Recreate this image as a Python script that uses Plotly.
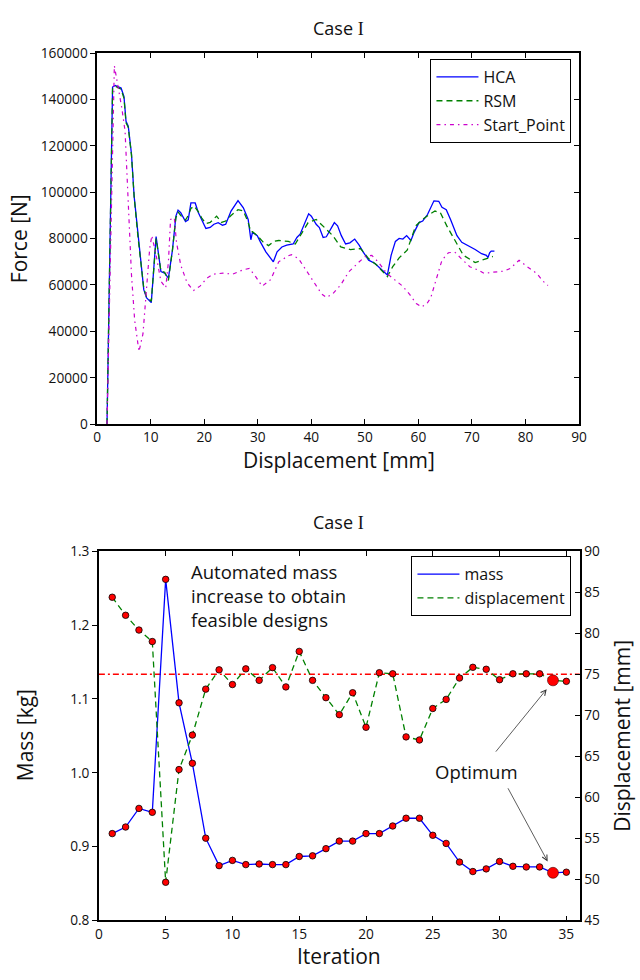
import plotly.graph_objects as go

# ---------------- Data: top chart (Force vs Displacement) ----------------
HCA_X = [1.83, 2.87, 3.36, 4.46, 5.0, 5.38, 5.8, 6.4, 6.9, 7.6, 8.7, 9.2, 10.1, 11.0, 11.9, 12.6, 13.3,
         14.05, 14.7, 15.1, 15.6, 16.5, 17.0, 17.5, 18.3, 18.9, 19.5, 20.3, 21.1, 21.8, 22.6, 23.4, 24.0,
         25.0, 26.3, 27.3, 28.2, 28.7, 29.0, 29.9, 30.5, 31.5, 32.9, 33.6, 34.5, 35.4, 36.6, 37.3, 37.9,
         38.5, 39.5, 40.0, 40.9, 41.5, 42.2, 42.8, 43.6, 44.3, 44.9, 45.6, 46.4, 47.2, 48.1, 48.9, 49.7,
         50.7, 51.9, 52.8, 53.4, 54.2, 54.9, 55.7, 56.4, 57.1, 57.8, 58.6, 59.2, 60.1, 60.8, 61.7, 62.9,
         63.8, 64.4, 65.2, 66.0, 67.2, 68.1, 69.3, 70.6, 71.8, 72.7, 73.0, 73.3, 73.6, 74.2]
HCA_F = [0, 145400, 146100, 145000, 141200, 130600, 128500, 116500, 98200, 81300, 58000, 54500, 52400,
         80900, 65800, 65100, 63000, 75000, 89700, 92300, 91200, 87400, 88100, 95400, 95400, 91200, 88300,
         84400, 84800, 86200, 86900, 85800, 86200, 91900, 96400, 93300, 88300, 79500, 82700, 81300, 78500,
         74300, 70000, 74300, 76400, 77200, 77700, 80500, 81900, 85500, 90700, 89700, 86200, 84800, 80500,
         80800, 84100, 86900, 85500, 81300, 77700, 78200, 79800, 77300, 74200, 70700, 69300, 67200, 66000,
         64300, 72800, 78800, 80100, 79800, 81300, 79200, 82700, 86900, 87600, 90400, 96300, 96100, 93500,
         92500, 88300, 81300, 78400, 77000, 75300, 73500, 72800, 71800, 73900, 74600, 74600]

RSM_X = [1.83, 2.87, 3.36, 4.46, 5.0, 5.38, 5.8, 6.4, 6.9, 7.6, 8.7, 9.2, 10.1, 11.0, 11.9, 12.6, 13.3,
         14.05, 14.7, 15.1, 15.6, 16.5, 17.0, 17.5, 18.1, 18.9, 19.5, 20.3, 21.1, 22.3, 23.2, 24.0, 25.0,
         26.3, 27.3, 28.2, 28.7, 29.0, 29.9, 31.0, 32.0, 33.0, 33.9, 35.7, 37.0, 37.9, 39.4, 40.9, 42.5,
         44.0, 45.5, 47.3, 49.2, 50.7, 52.2, 54.2, 55.2, 56.4, 57.9, 59.5, 60.8, 62.0, 63.1, 64.1, 65.3,
         66.9, 68.4, 70.6, 72.4, 73.9]
RSM_F = [0, 145000, 145800, 144500, 140500, 130000, 128000, 116000, 98000, 81000, 58500, 55000, 53000,
         80000, 66000, 65500, 62000, 75000, 89000, 91500, 90000, 88000, 90000, 93000, 94000, 91500, 89000,
         86500, 87000, 89700, 87000, 87600, 90000, 92500, 91900, 87000, 83000, 83000, 81300, 78500, 77000,
         78800, 79200, 78800, 77700, 81300, 86900, 88300, 84800, 81300, 76400, 75300, 75700, 71400, 68600,
         63600, 67900, 71700, 75000, 85500, 88300, 90400, 91900, 91200, 85500, 79200, 72800, 69700, 71000,
         72300]

START_X = [1.83, 3.2, 3.85, 4.6, 5.2, 5.8, 6.4, 7.0, 7.8, 8.55, 9.2, 9.8, 10.2, 11.0, 11.9, 12.8, 13.3,
           13.7, 14.4, 14.8, 15.6, 16.8, 18.0, 19.2, 20.5, 21.7, 23.5, 25.3, 27.2, 28.4, 29.6, 30.8, 32.4,
           33.9, 35.7, 36.3, 37.6, 38.8, 40.3, 41.9, 42.8, 44.0, 45.5, 47.0, 48.9, 50.1, 51.3, 52.5, 54.1,
           55.3, 57.1, 58.4, 59.6, 60.6, 61.6, 62.3, 63.2, 63.8, 64.4, 65.6, 66.8, 68.0, 69.6, 71.1, 72.3,
           73.9, 76.0, 77.2, 78.8, 80.3, 82.1, 83.3, 84.2]
START_F = [0, 154600, 146100, 136200, 126400, 95400, 64400, 44700, 31300, 39000, 58800, 75700, 81300,
           72800, 61600, 58800, 70000, 88300, 89000, 78500, 68600, 60900, 57600, 59500, 63000, 64700, 65100,
           64700, 66500, 67200, 63600, 59500, 62300, 70000, 72600, 73100, 71400, 67200, 61600, 56200, 54600,
           56200, 60100, 65700, 69900, 72300, 72800, 69900, 65000, 62900, 59400, 55800, 52000, 50500, 52000,
           54500, 61600, 66500, 70700, 73900, 74200, 71400, 67900, 66500, 65000, 65500, 66000, 67200, 70700,
           67900, 65000, 61600, 59800]

# ---------------- Data: bottom chart (iterations) ----------------
ITER = list(range(1, 36))
MASS = [0.9177, 0.9266, 0.9518, 0.9465, 1.262, 1.0948, 1.0129, 0.9115, 0.8743, 0.8814, 0.8757, 0.8765,
        0.8757, 0.8757, 0.8867, 0.8876, 0.8973, 0.9075, 0.9075, 0.9177, 0.9177, 0.928, 0.9385, 0.9385,
        0.9154, 0.9044, 0.8791, 0.8663, 0.8699, 0.8800, 0.8734, 0.8725, 0.8725, 0.8646, 0.8654]
DISP = [84.4, 82.2, 80.4, 79.0, 49.66, 63.4, 67.6, 73.2, 75.55, 73.76, 75.67, 74.27, 75.82, 73.47, 77.8,
        74.27, 72.16, 70.09, 72.76, 68.55, 75.2, 75.07, 67.38, 67.0, 70.84, 71.95, 74.55, 75.86, 75.62,
        74.35, 75.07, 75.07, 75.07, 74.27, 74.15]
OPT_ITER = 34
DISP_LIMIT = 75.0

TOP_XTICKS = list(range(0, 91, 10))
TOP_YTICKS = list(range(0, 160001, 20000))
BOT_XTICKS = list(range(0, 36, 5))
MASS_TICKS = [0.8, 0.9, 1.0, 1.1, 1.2, 1.3]
DISP_TICKS = list(range(45, 91, 5))

FONT = "Open Sans"
TICKFONT = dict(family=FONT, size=13.7, color="#111")
W, H = 640, 980


def py(v):
    return 1 - v / H


def px(v):
    return v / W


fig = go.Figure()

# top chart traces
fig.add_trace(go.Scatter(x=HCA_X, y=HCA_F, mode="lines", name="HCA",
                         line=dict(color="#0000ff", width=1.3), xaxis="x", yaxis="y", legend="legend"))
fig.add_trace(go.Scatter(x=RSM_X, y=RSM_F, mode="lines", name="RSM",
                         line=dict(color="#008000", width=1.3, dash="6px,4px"), xaxis="x", yaxis="y",
                         legend="legend"))
fig.add_trace(go.Scatter(x=START_X, y=START_F, mode="lines", name="Start_Point",
                         line=dict(color="#cc00cc", width=1.2, dash="4px,4px,1.5px,4px"), xaxis="x",
                         yaxis="y", legend="legend"))

# bottom chart traces
fig.add_trace(go.Scatter(x=ITER, y=MASS, mode="lines", name="mass",
                         line=dict(color="#0000ff", width=1.3), xaxis="x2", yaxis="y2", legend="legend2"))
fig.add_trace(go.Scatter(x=ITER, y=DISP, mode="lines", name="displacement",
                         line=dict(color="#008000", width=1.3, dash="6px,4px"), xaxis="x2", yaxis="y3",
                         legend="legend2"))
MK = dict(color="#ff0000", size=6.5, line=dict(color="#000", width=0.8))
fig.add_trace(go.Scatter(x=ITER, y=MASS, mode="markers", marker=MK, showlegend=False,
                         xaxis="x2", yaxis="y2"))
fig.add_trace(go.Scatter(x=ITER, y=DISP, mode="markers", marker=MK, showlegend=False,
                         xaxis="x2", yaxis="y3"))
BIG = dict(color="#ff0000", size=11, line=dict(color="#400", width=0.6))
fig.add_trace(go.Scatter(x=[OPT_ITER], y=[MASS[OPT_ITER - 1]], mode="markers", marker=BIG,
                         showlegend=False, xaxis="x2", yaxis="y2"))
fig.add_trace(go.Scatter(x=[OPT_ITER], y=[DISP[OPT_ITER - 1]], mode="markers", marker=BIG,
                         showlegend=False, xaxis="x2", yaxis="y3"))
# dummy trace to activate the mirrored right axis of the top chart
fig.add_trace(go.Scatter(x=[None], y=[None], xaxis="x", yaxis="y4", showlegend=False, hoverinfo="skip"))

axline = dict(showline=True, linecolor="#000", linewidth=1.5, showgrid=False, zeroline=False,
              tickcolor="#000", ticklen=5, tickwidth=1, tickfont=TICKFONT)

top_x_dom = [px(95), px(586)]
top_y_dom = [py(422.3), py(44)]
bot_x_dom = [px(96.7), px(586.7)]
bot_y_dom = [py(928.5), py(552)]

LEGFONT = dict(family=FONT, size=16, color="#111")

fig.update_layout(
    width=W, height=H, margin=dict(l=0, r=0, t=0, b=0, pad=0),
    paper_bgcolor="white", plot_bgcolor="white",
    font=dict(family=FONT, color="#111"),
    xaxis=dict(domain=top_x_dom, anchor="y", range=[0, 90], tickvals=TOP_XTICKS, ticks="inside",
               mirror="ticks", **axline),
    yaxis=dict(domain=top_y_dom, anchor="x", range=[0, 160000], tickvals=TOP_YTICKS,
               tickformat="d", ticks="outside", **axline),
    yaxis4=dict(overlaying="y", side="right", anchor="x", range=[0, 160000], tickvals=TOP_YTICKS,
                ticks="inside", showticklabels=False, **axline),
    xaxis2=dict(domain=bot_x_dom, anchor="y2", range=[0, 36], tickvals=BOT_XTICKS, ticks="inside",
                mirror="ticks", **axline),
    yaxis2=dict(domain=bot_y_dom, anchor="x2", range=[0.8, 1.3], tickvals=MASS_TICKS,
                tickformat=".1f", ticks="outside", **axline),
    yaxis3=dict(overlaying="y2", side="right", anchor="x2", range=[45, 90], tickvals=DISP_TICKS,
                ticks="inside", **axline),
    legend=dict(x=px(578.3), y=py(50), xanchor="right", yanchor="top", bgcolor="white",
                bordercolor="#000", borderwidth=1, font=LEGFONT, itemwidth=42, tracegroupgap=0),
    legend2=dict(x=px(578.3), y=py(557), xanchor="right", yanchor="top", bgcolor="white",
                 bordercolor="#000", borderwidth=1, font=LEGFONT, itemwidth=42, tracegroupgap=0),
    shapes=[dict(type="line", xref="x2 domain", x0=0, x1=1, yref="y3", y0=DISP_LIMIT, y1=DISP_LIMIT,
                 line=dict(color="#ff0000", width=1.5, dash="6px,3px,2px,3px"), layer="below")],
)

SERIF_I = "<span style='font-family:Liberation Serif'>I</span>"
TITLEFONT = dict(family=FONT, size=21, color="#111")


def label(text, x, y, size_font, angle=0):
    return dict(text=text, x=px(x), y=py(y), xref="paper", yref="paper", xanchor="center",
                yanchor="middle", textangle=angle, showarrow=False, font=size_font)


ann = [
    label("Case " + SERIF_I, 341, 18, dict(family=FONT, size=18, color="#111")),
    label("Case " + SERIF_I, 341, 522, dict(family=FONT, size=18, color="#111")),
    label("Displacement [mm]", 341, 459, TITLEFONT),
    label("Force [N]", 16, 233, TITLEFONT, -90),
    label("Iteration", 341, 965, TITLEFONT),
    label("Mass [kg]", 21, 740, TITLEFONT, -90),
    label("Displacement [mm]", 629, 740, TITLEFONT, -90),
    label("Optimum", 482, 777, dict(family=FONT, size=18.5, color="#111")),
    dict(text="Automated mass<br>increase to obtain<br>feasible designs", x=px(189), y=py(558),
         xref="paper", yref="paper", xanchor="left", yanchor="top", align="left",
         showarrow=False, font=dict(family=FONT, size=18.5, color="#111")),
    # arrows (head and tail in data coords)
    dict(text="", x=33.53, y=73.2, xref="x2", yref="y3", ax=29.63, ay=65.4, axref="x2",
         ayref="y3", showarrow=True, arrowhead=5, arrowsize=1.3, arrowwidth=0.8, arrowcolor="#333"),
    dict(text="", x=33.6, y=52.2, xref="x2", yref="y3", ax=30.57, ay=61.3, axref="x2",
         ayref="y3", showarrow=True, arrowhead=5, arrowsize=1.3, arrowwidth=0.8, arrowcolor="#333"),
]
fig.update_layout(annotations=ann)

fig.write_html("out.html")
